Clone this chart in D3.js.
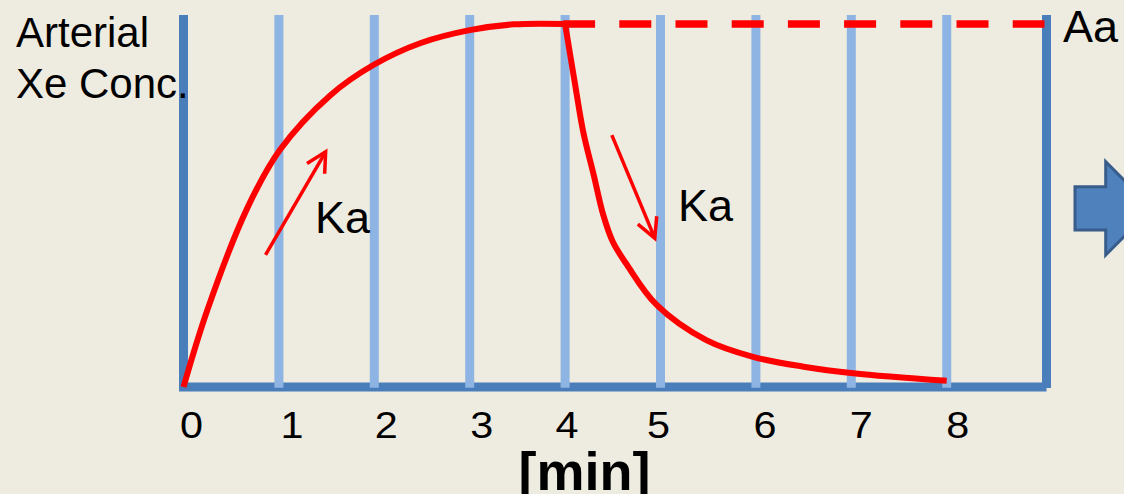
<!DOCTYPE html>
<html>
<head>
<meta charset="utf-8">
<script src="https://cdn.jsdelivr.net/npm/d3@7"></script>
<style>
  html, body { margin: 0; padding: 0; background: #EEEBE0; }
  svg { display: block; }
  text { font-family: "Liberation Sans", Arial, sans-serif; fill: #000; }
</style>
</head>
<body>
<script>
// ---- data ----
const minuteTicks = [0, 1, 2, 3, 4, 5, 6, 7, 8];
const tickLabels = ["0", "1", "2", "3", "4", "5", "6", "7", "8"];
const riseTime = [0, 0.25, 0.66, 1.01, 1.54, 1.99, 2.48, 3.0, 3.46, 4.0];
const riseConc = [0, 21.2, 48.8, 65.3, 80.4, 88.7, 94.7, 98.3, 99.9, 100];
const fallTime = [4.0, 4.10, 4.19, 4.30, 4.40, 4.50, 4.65, 4.96, 5.48, 5.97, 6.50, 7.02, 8.0];
const fallConc = [100, 84.1, 70.3, 58.4, 47.4, 40.0, 33.6, 22.6, 12.9, 8.3, 5.6, 3.8, 1.7];
const plateauConc = 100;
const plateauStart = 4;
const upArrow = [[0.86, 36.4], [1.49, 64.8]];
const downArrow = [[4.49, 69.4], [4.94, 41.0]];
const yLabelLines = ["Arterial", "Xe Conc."];
const xTitle = "[min]";
const kaLabel = "Ka";
const aaLabel = "Aa";

// ---- layout ----
const W = 1124, H = 494;
const svg = d3.select("body").append("svg").attr("width", W).attr("height", H);
svg.append("rect").attr("width", W).attr("height", H).attr("fill", "#EEEBE0");

const x = d3.scaleLinear().domain([0, 8]).range([183.5, 946.7]);
const y = d3.scaleLinear().domain([0, 100]).range([387, 24]);
const frameTop = 15, frameRight = 1046.5;
const axisBlue = "#4A7EBB", gridBlue = "#8EB4E3", red = "#FF0000";

// bottom axis
svg.append("line").attr("x1", x(0) - 4.5).attr("x2", frameRight).attr("y1", y(0)).attr("y2", y(0))
  .attr("stroke", axisBlue).attr("stroke-width", 9);
// left axis
svg.append("line").attr("x1", x(0)).attr("x2", x(0)).attr("y1", frameTop).attr("y2", y(0) + 1)
  .attr("stroke", axisBlue).attr("stroke-width", 9);
// right frame line
svg.append("line").attr("x1", frameRight).attr("x2", frameRight).attr("y1", frameTop).attr("y2", y(0) + 1)
  .attr("stroke", axisBlue).attr("stroke-width", 9);

// grid lines
svg.append("g").selectAll("line").data(minuteTicks.filter(d => d > 0)).join("line")
  .attr("x1", d => x(d)).attr("x2", d => x(d))
  .attr("y1", frameTop).attr("y2", y(0) + 0.7)
  .attr("stroke", gridBlue).attr("stroke-width", 9);

// tick labels (hand-placed nudges like the original)
const labelNudge = [8, 13, 12, 12, 2, -2, 9, 10, 11];
svg.append("g").selectAll("text").data(minuteTicks).join("text")
  .attr("x", (d, i) => x(d) + labelNudge[i]).attr("y", 438)
  .attr("text-anchor", "middle").attr("font-size", 36)
  .attr("textLength", 23).attr("lengthAdjust", "spacingAndGlyphs")
  .text((d, i) => tickLabels[i]);

// axis title
svg.append("text").attr("x", 584.5).attr("y", 490).attr("text-anchor", "middle")
  .attr("font-size", 54).attr("font-weight", "bold").text(xTitle);

// y label
svg.append("g").selectAll("text").data(yLabelLines).join("text")
  .attr("x", 16).attr("y", (d, i) => 46.7 + i * 51.6)
  .attr("font-size", 42).text(d => d);

// curves
const smooth = d3.line().x(d => x(d[0])).y(d => y(d[1])).curve(d3.curveCatmullRom.alpha(0.5));
const rise = riseTime.map((t, i) => [t, riseConc[i]]);
svg.append("path").attr("d", smooth(rise)).attr("fill", "none")
  .attr("stroke", red).attr("stroke-width", 6).attr("stroke-linejoin", "round");
const fall = fallTime.map((t, i) => [t, fallConc[i]]);
svg.append("path").attr("d", smooth(fall))
  .attr("fill", "none").attr("stroke", red).attr("stroke-width", 6).attr("stroke-linejoin", "round");

// dashed plateau
svg.append("line").attr("x1", x(plateauStart) - 2).attr("x2", frameRight - 2)
  .attr("y1", y(plateauConc)).attr("y2", y(plateauConc))
  .attr("stroke", red).attr("stroke-width", 7.5).attr("stroke-dasharray", "32,24.2");

// arrows
function drawArrow(pts) {
  const [p0, p1] = pts;
  const x0 = x(p0[0]), y0 = y(p0[1]), x1 = x(p1[0]), y1 = y(p1[1]);
  const ang = Math.atan2(y1 - y0, x1 - x0);
  const L = 22, spread = Math.PI / 6.5;
  const g = svg.append("g").attr("stroke", red).attr("stroke-width", 3.5).attr("fill", "none")
    .attr("stroke-linecap", "butt");
  g.append("line").attr("x1", x0).attr("y1", y0).attr("x2", x1).attr("y2", y1);
  const a1 = ang + Math.PI - spread, a2 = ang + Math.PI + spread;
  g.append("polyline").attr("points", [
    [x1 + L * Math.cos(a1), y1 + L * Math.sin(a1)], [x1, y1], [x1 + L * Math.cos(a2), y1 + L * Math.sin(a2)]
  ].map(p => p.join(",")).join(" "));
}
drawArrow(upArrow);
drawArrow(downArrow);

// Ka labels
svg.append("text").attr("x", 315).attr("y", 233).attr("font-size", 45).text(kaLabel);
svg.append("text").attr("x", 678).attr("y", 221).attr("font-size", 45).text(kaLabel);
// Aa label
svg.append("text").attr("x", 1063).attr("y", 41.7).attr("font-size", 45).text(aaLabel);

// block arrow on the right
svg.append("path")
  .attr("d", "M1075,186.7 L1105.7,186.7 L1105.7,161.7 L1152,208.4 L1105.7,255 L1105.7,230 L1075,230 Z")
  .attr("fill", "#4F81BD").attr("stroke", "#385D8A").attr("stroke-width", 3);
</script>
</body>
</html>
